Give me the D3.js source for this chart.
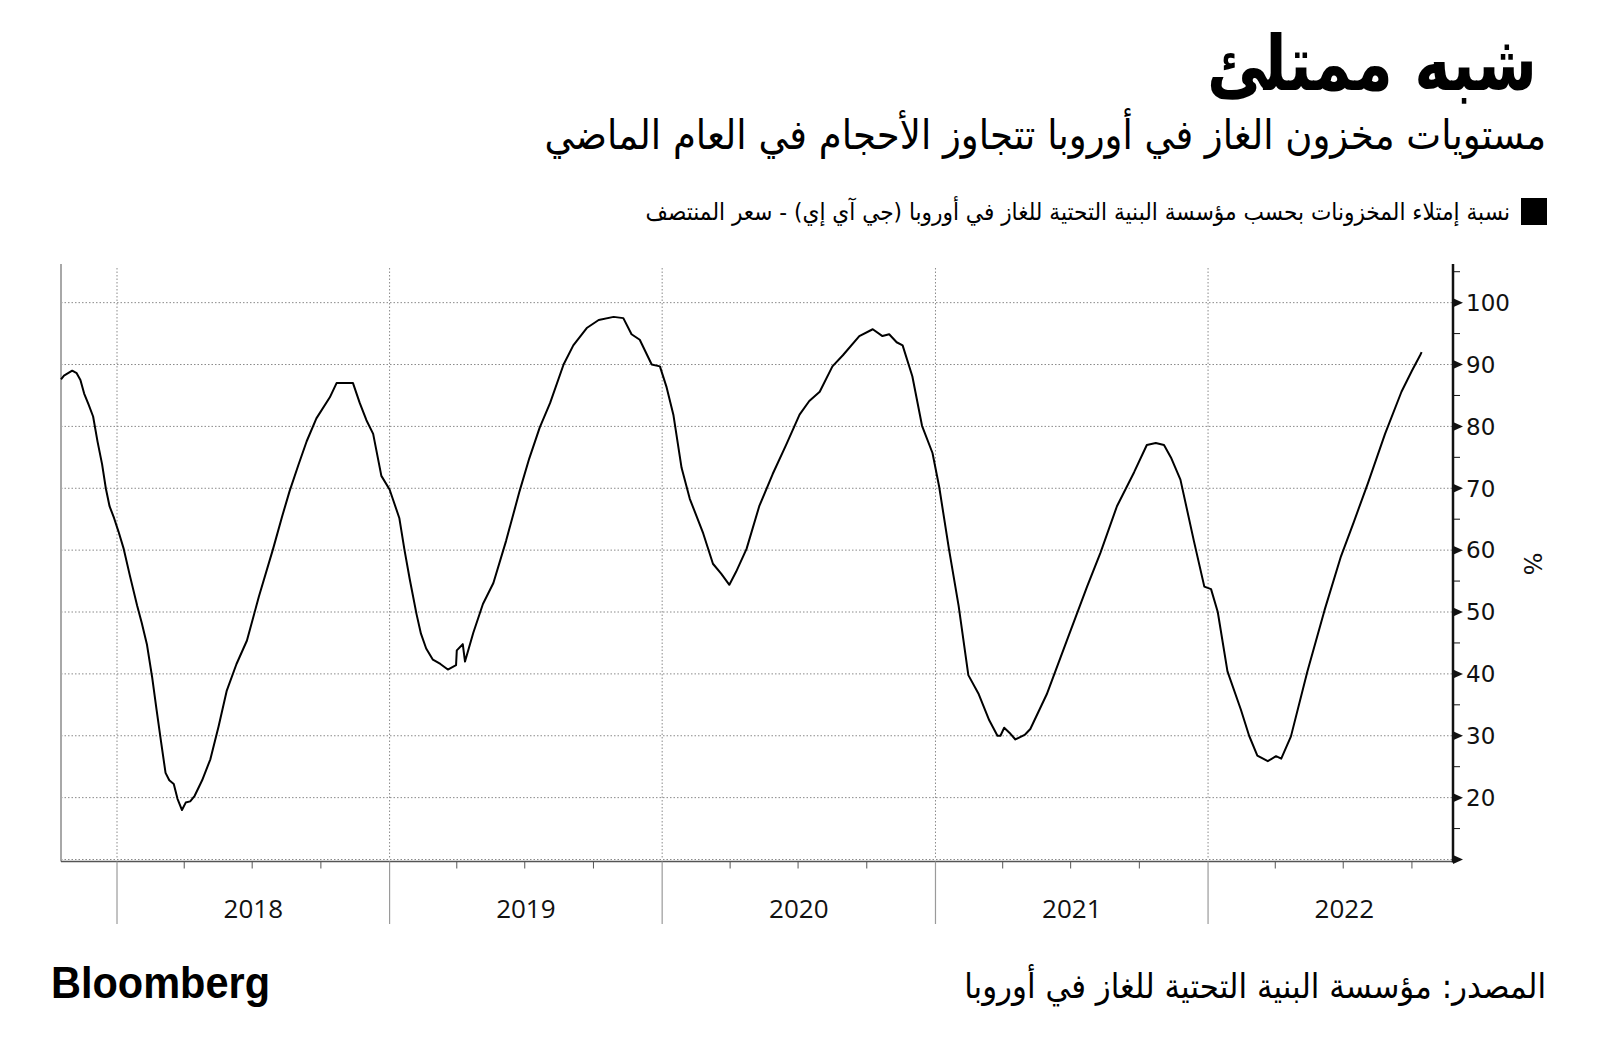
<!DOCTYPE html>
<html><head><meta charset="utf-8">
<script src="https://cdn.jsdelivr.net/npm/d3@7"></script>
<style>body{margin:0;background:#fff;} svg{display:block;}</style>
</head><body>
<svg id="chart" width="1600" height="1063"></svg>
<script>
const titleText = "شبه ممتلئ";
const subtitleText = "مستويات مخزون الغاز في أوروبا تتجاوز الأحجام في العام الماضي";
const legendText = "نسبة إمتلاء المخزونات بحسب مؤسسة البنية التحتية للغاز في أوروبا (جي آي إي) - سعر المنتصف";
const sourceText = "المصدر: مؤسسة البنية التحتية للغاز في أوروبا";
const brandText = "Bloomberg";
const yAxisLabel = "%";

const dates = [
"2017-10-18","2017-10-22","2017-11-02","2017-11-08","2017-11-13","2017-11-18","2017-11-24","2017-11-30",
"2017-12-06","2017-12-12","2017-12-17","2017-12-22","2017-12-28","2018-01-03","2018-01-10","2018-01-18",
"2018-01-28","2018-02-03","2018-02-10","2018-02-17","2018-02-23","2018-03-01","2018-03-07","2018-03-12",
"2018-03-18","2018-03-23","2018-03-29","2018-04-03","2018-04-09","2018-04-15","2018-04-25","2018-05-06",
"2018-05-17","2018-05-28","2018-06-10","2018-06-24","2018-07-10","2018-07-29","2018-08-10","2018-08-20",
"2018-09-01","2018-09-12","2018-09-25","2018-10-13","2018-10-22","2018-11-13","2018-11-22","2018-12-01",
"2018-12-10","2018-12-21","2019-01-01","2019-01-14","2019-01-21","2019-01-28","2019-02-06","2019-02-12",
"2019-02-19","2019-02-28","2019-03-10","2019-03-20","2019-03-31","2019-04-01","2019-04-09","2019-04-12",
"2019-04-23","2019-05-06","2019-05-20","2019-06-06","2019-06-24","2019-07-07","2019-07-21","2019-08-04",
"2019-08-22","2019-09-04","2019-09-22","2019-10-08","2019-10-28","2019-11-10","2019-11-21","2019-12-02",
"2019-12-18","2019-12-29","2020-01-07","2020-01-16","2020-01-27","2020-02-07","2020-02-25","2020-03-09",
"2020-03-20","2020-03-31","2020-04-09","2020-04-23","2020-05-10","2020-05-28","2020-06-15","2020-07-03",
"2020-07-16","2020-07-30","2020-08-16","2020-08-30","2020-09-21","2020-10-09","2020-10-22","2020-10-31",
"2020-11-10","2020-11-18","2020-12-01","2020-12-14","2020-12-28","2021-01-06","2021-01-19","2021-02-01",
"2021-02-14","2021-02-28","2021-03-14","2021-03-25","2021-03-29","2021-04-03","2021-04-10","2021-04-18",
"2021-05-01","2021-05-08","2021-05-30","2021-06-26","2021-07-23","2021-08-10","2021-09-01","2021-09-24",
"2021-10-11","2021-10-23","2021-11-03","2021-11-13","2021-11-25","2021-12-13","2021-12-27","2022-01-05",
"2022-01-14","2022-01-27","2022-02-14","2022-02-25","2022-03-08","2022-03-22","2022-04-02","2022-04-09",
"2022-04-22","2022-05-14","2022-06-06","2022-06-28","2022-07-15","2022-08-03","2022-08-26","2022-09-17",
"2022-10-01","2022-10-12","2022-10-14"
];
const values = [
87.6,88.2,89.0,88.6,87.5,85.3,83.5,81.6,
77.5,73.9,70.0,67.1,65.2,63.0,60.2,56.0,
51.0,48.3,44.8,39.5,34.2,29.0,24.0,22.8,
22.2,19.8,18.0,19.2,19.4,20.3,22.8,26.2,
31.5,37.3,41.6,45.4,52.5,60.2,65.4,69.5,
73.8,77.6,81.3,84.7,87.0,87.0,83.8,81.0,
78.8,72.0,69.8,65.2,60.0,55.3,49.7,46.5,
44.1,42.3,41.6,40.7,41.4,43.8,44.8,42.0,
46.6,51.3,54.7,61.5,69.5,74.8,79.8,83.8,
90.0,93.1,95.9,97.2,97.7,97.5,94.9,94.0,
90.0,89.7,86.3,81.9,73.3,68.3,62.7,57.8,
56.2,54.4,56.5,60.2,67.1,72.3,77.0,81.9,
84.1,85.6,89.7,91.5,94.6,95.7,94.6,94.9,
93.6,93.1,88.1,80.1,75.7,70.2,60.2,51.0,
39.8,36.7,32.5,30.0,30.0,31.3,30.5,29.4,
30.2,31.1,36.7,45.4,54.1,59.6,67.1,72.6,
77.0,77.3,77.0,74.8,71.4,61.5,54.1,53.7,
50.0,40.4,34.2,30.0,26.8,25.9,26.7,26.3,
29.9,40.4,50.3,59.0,64.5,70.8,78.8,85.6,
89.0,91.5,92.0
];
const yTickValues = [20,30,40,50,60,70,80,90,100];
const yArrowValues = [10,20,30,40,50,60,70,80,90,100];
const yMinorValues = [15,25,35,45,55,65,75,85,95,105];
const yearLabels = ["2018","2019","2020","2021","2022"];

const svg = d3.select("#chart");
const parse = d3.utcParse("%Y-%m-%d");
const data = dates.map((d,i)=>({date:parse(d), value:values[i]}));

const plotL = 61, plotR = 1453, plotT = 268, plotB = 859.5;
const x = d3.scaleUtc().domain([parse("2017-10-18"), parse("2022-11-25")]).range([plotL, plotR]);
const y = d3.scaleLinear().domain([10, 105.6]).range([plotB, plotT]);

// gridlines
const grid = svg.append("g");
grid.selectAll("line.h").data(yArrowValues).join("line")
  .attr("x1", plotL).attr("x2", plotR)
  .attr("y1", d=>y(d)).attr("y2", d=>y(d))
  .attr("stroke", "#8a8a8a").attr("stroke-width", 1).attr("stroke-dasharray", "1.5,2");
const yearStarts = yearLabels.map(s=>parse(s+"-01-01"));
grid.selectAll("line.v").data(yearStarts).join("line")
  .attr("x1", d=>x(d)).attr("x2", d=>x(d))
  .attr("y1", plotT).attr("y2", plotB)
  .attr("stroke", "#8a8a8a").attr("stroke-width", 1).attr("stroke-dasharray", "1.5,2");

// left border
svg.append("line").attr("x1", plotL).attr("x2", plotL).attr("y1", plotT - 4).attr("y2", plotB + 2)
  .attr("stroke", "#a8a8a8").attr("stroke-width", 2);

// x axis line
svg.append("line").attr("x1", plotL).attr("x2", plotR).attr("y1", plotB + 2).attr("y2", plotB + 2)
  .attr("stroke", "#555").attr("stroke-width", 1.6);

// quarter ticks
const quarters = d3.utcMonth.every(3).range(x.domain()[0], x.domain()[1]).filter(d=>d.getUTCMonth()!==0);
svg.append("g").selectAll("line").data(quarters).join("line")
  .attr("x1", d=>x(d)).attr("x2", d=>x(d))
  .attr("y1", plotB + 2).attr("y2", plotB + 9)
  .attr("stroke", "#555").attr("stroke-width", 1);
// year separators
svg.append("g").selectAll("line").data(yearStarts).join("line")
  .attr("x1", d=>x(d)).attr("x2", d=>x(d))
  .attr("y1", plotB + 2).attr("y2", 924)
  .attr("stroke", "#9a9a9a").attr("stroke-width", 1.2);
// year labels
svg.append("g").selectAll("text").data(yearLabels).join("text")
  .attr("x", d=>(x(parse(d+"-01-01")) + x(parse((+d+1)+"-01-01")))/2)
  .attr("y", 918)
  .attr("text-anchor", "middle")
  .attr("font-family", "'Open Sans', sans-serif")
  .attr("font-size", 26)
  .attr("fill", "#111")
  .text(d=>d);

// line
svg.append("path").datum(data)
  .attr("fill", "none").attr("stroke", "#000").attr("stroke-width", 2)
  .attr("stroke-linejoin", "round")
  .attr("d", d3.line().x(d=>x(d.date)).y(d=>y(d.value)));

// right axis
svg.append("line").attr("x1", plotR).attr("x2", plotR).attr("y1", plotT - 4).attr("y2", plotB + 3)
  .attr("stroke", "#111").attr("stroke-width", 2.5);
svg.append("g").selectAll("path").data(yArrowValues).join("path")
  .attr("d", d=>`M${plotR},${y(d)-4.5}L${plotR+10},${y(d)}L${plotR},${y(d)+4.5}Z`)
  .attr("fill", "#111");
svg.append("g").selectAll("line").data(yMinorValues).join("line")
  .attr("x1", plotR).attr("x2", plotR + 7)
  .attr("y1", d=>y(d)).attr("y2", d=>y(d))
  .attr("stroke", "#111").attr("stroke-width", 1);
svg.append("g").selectAll("text").data(yTickValues).join("text")
  .attr("x", plotR + 13).attr("y", d=>y(d))
  .attr("dy", "0.36em")
  .attr("font-family", "'DejaVu Sans', sans-serif")
  .attr("font-size", 23)
  .attr("fill", "#111")
  .text(d=>d);
svg.append("text")
  .attr("transform", `translate(1524, 564) rotate(90)`)
  .attr("text-anchor", "middle")
  .attr("font-family", "'DejaVu Sans', sans-serif")
  .attr("font-size", 24)
  .attr("fill", "#111")
  .text(yAxisLabel);

// text helper: fit width, align right edge, optional vertical stretch
function placeText(txt, family, weight, baseline, x1, x2, rtl, vstretch) {
  const t = svg.append("text")
    .attr("x", x2).attr("y", baseline)
    .attr("font-family", family).attr("font-weight", weight)
    .attr("font-size", 30).attr("fill", "#000")
    .text(txt);
  if (rtl) t.attr("direction", "rtl").style("direction", "rtl");
  let bb = t.node().getBBox();
  const fs = 30 * (x2 - x1) / bb.width;
  t.attr("font-size", fs);
  bb = t.node().getBBox();
  t.attr("x", x2 + (x2 - (bb.x + bb.width)));
  if (vstretch) {
    t.attr("transform", `translate(0,${baseline}) scale(1,${vstretch}) translate(0,${-baseline})`);
  }
  return t;
}
placeText(titleText, "'DejaVu Sans', sans-serif", "bold", 90, 1207, 1537, true, 1.25);
placeText(subtitleText, "'DejaVu Sans', sans-serif", "normal", 149, 544, 1546, true, 1.1);
placeText(legendText, "'DejaVu Sans', sans-serif", "normal", 220, 645, 1510, true, 1.1);
svg.append("rect").attr("x", 1521).attr("y", 198).attr("width", 26).attr("height", 27).attr("fill", "#000");
placeText(sourceText, "'DejaVu Sans', sans-serif", "normal", 998, 964, 1546, true, 1.1);
placeText(brandText, "'Liberation Sans', Arial, sans-serif", "bold", 998, 51, 270, false, 1.05);
</script>
</body></html>
